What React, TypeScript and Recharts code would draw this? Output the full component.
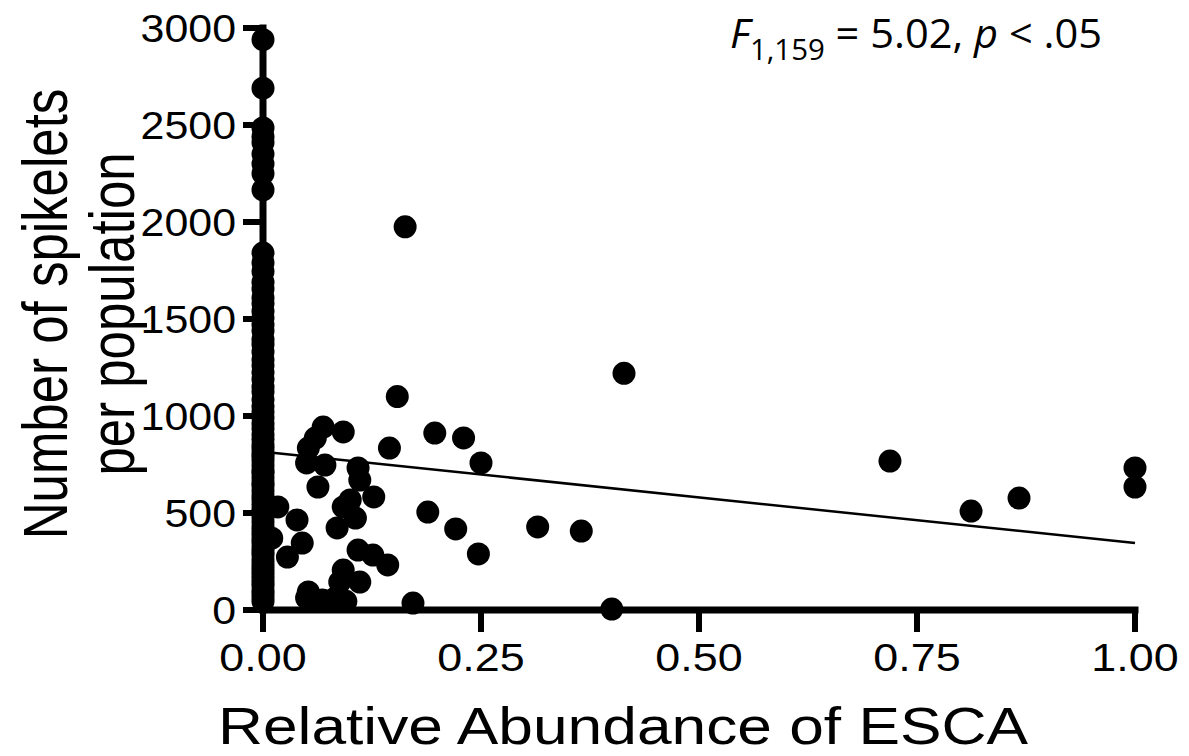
import React from 'react';
import { ScatterChart, Scatter, XAxis, YAxis, ReferenceLine } from 'recharts';

// populations with no ESCA present (all at x = 0)
const zeroAbundanceSpikelets = [
  2940, 2690, 2485, 2440, 2410, 2350, 2300, 2250, 2165,
  1840, 1790, 1745, 1690, 1655, 1610, 1580, 1540, 1505, 1470, 1440, 1395,
  1370, 1330, 1290, 1260, 1225, 1190, 1150, 1125, 1085, 1050, 1020, 990,
  960, 935, 905, 880, 850, 830, 805, 790, 770, 745, 720, 705, 680, 655,
  640, 615, 590, 570, 545, 520, 505, 480, 455, 430, 410, 390, 365, 345,
  320, 300, 285, 260, 240, 220, 200, 180, 160, 140, 125, 100, 85, 65, 45,
];

// populations with ESCA present
const abundance = [
  0.163, 0.414, 0.154, 0.145, 0.197, 0.23, 0.25, 0.189, 0.221, 0.247,
  0.315, 0.365, 0.143, 0.126, 0.172, 0.4, 0.719, 0.812, 0.867, 1.0,
  1.0, 0.069, 0.092, 0.06, 0.052, 0.05, 0.071, 0.109, 0.111, 0.063,
  0.127, 0.1, 0.092, 0.106, 0.085, 0.017, 0.039, 0.045, 0.028, 0.109,
  0.092, 0.088, 0.111, 0.052, 0.05, 0.068, 0.083, 0.01, 0.095,
];
const spikelets = [
  1975, 1220, 1100, 835, 912, 887, 758, 505, 418, 289,
  428, 407, 232, 283, 36, 5, 768, 510, 577, 732,
  634, 943, 918, 886, 835, 758, 747, 732, 670, 634,
  583, 567, 531, 474, 423, 531, 464, 345, 273, 309,
  206, 144, 144, 93, 62, 52, 62, 370, 45,
];

const xTicks = [0, 0.25, 0.5, 0.75, 1];
const yTicks = [0, 500, 1000, 1500, 2000, 2500, 3000];

// linear fit shown in the figure
const intercept = 816;
const slope = -471;

const points = [
  ...zeroAbundanceSpikelets.map((y) => ({ x: 0, y })),
  ...abundance.map((x, i) => ({ x, y: spikelets[i] })),
];

const FONT = '"Liberation Sans", Arial, sans-serif';
const STRETCH = 1.24;

const YTick = (props: any) => {
  const { x, y, payload } = props;
  return (
    <g transform={`translate(${x},${y}) scale(1.1,1)`}>
      <text x={0} y={0} dy="0.36em" textAnchor="end" fontSize={39} fontFamily={FONT} fill="#000">
        {payload.value}
      </text>
    </g>
  );
};

const XTick = (props: any) => {
  const { x, y, payload } = props;
  return (
    <g transform={`translate(${x},${y}) scale(1.15,1)`}>
      <text x={0} y={28} textAnchor="middle" fontSize={39} fontFamily={FONT} fill="#000">
        {payload.value.toFixed(2)}
      </text>
    </g>
  );
};

const Dot = (props: any) => <circle cx={props.cx} cy={props.cy} r={11.5} fill="#000" />;

export default function App() {
  return (
    <div style={{ position: 'relative', width: 1181, height: 748, background: '#fff' }}>
      <ScatterChart width={1181} height={748} margin={{ top: 20, right: 54, bottom: 86, left: 0 }}>
        <XAxis
          type="number"
          dataKey="x"
          domain={[0, 1]}
          ticks={xTicks}
          height={60}
          tickSize={22}
          tickMargin={11}
          axisLine={{ stroke: '#000', strokeWidth: 7, strokeLinecap: 'square' }}
          tickLine={{ stroke: '#000', strokeWidth: 6 }}
          tick={<XTick />}
        />
        <YAxis
          type="number"
          dataKey="y"
          domain={[0, 3000]}
          ticks={yTicks}
          width={255}
          tickSize={20}
          tickMargin={7}
          axisLine={{ stroke: '#000', strokeWidth: 7, strokeLinecap: 'square' }}
          tickLine={{ stroke: '#000', strokeWidth: 6 }}
          tick={<YTick />}
        />
        <ReferenceLine
          segment={[
            { x: 0, y: intercept },
            { x: 1, y: intercept + slope },
          ]}
          stroke="#000"
          strokeWidth={2.5}
          ifOverflow="visible"
        />
        <Scatter data={points} shape={<Dot />} isAnimationActive={false} />
      </ScatterChart>
      {/* overlay in page coordinates */}
      <svg
        width={1189}
        height={756}
        style={{ position: 'absolute', left: -8, top: -8, pointerEvents: 'none', overflow: 'visible' }}
      >
        <text
          transform={`translate(67,314) rotate(-90) scale(1,${STRETCH})`}
          textAnchor="middle"
          fontSize={51}
          fontFamily={FONT}
          fill="#000"
        >
          Number of spikelets
        </text>
        <text
          transform={`translate(134,314) rotate(-90) scale(1,${STRETCH})`}
          textAnchor="middle"
          fontSize={51}
          fontFamily={FONT}
          fill="#000"
        >
          per population
        </text>
        <text
          x={218}
          y={744}
          textLength={810}
          lengthAdjust="spacingAndGlyphs"
          fontSize={52}
          fontFamily={FONT}
          fill="#000"
        >
          Relative Abundance of ESCA
        </text>
        <text
          x={730}
          y={48}
          textLength={372}
          lengthAdjust="spacingAndGlyphs"
          fontSize={41}
          fontFamily='"Open Sans", "Noto Sans", sans-serif'
          fill="#000"
          style={{ whiteSpace: 'pre' }}
        >
          <tspan fontStyle="italic">F</tspan>
          <tspan fontSize={29} dy={12}>1,159</tspan>
          <tspan dy={-12}> = 5.02, </tspan>
          <tspan fontStyle="italic">p</tspan>
          <tspan> &lt; .05</tspan>
        </text>
      </svg>
    </div>
  );
}
